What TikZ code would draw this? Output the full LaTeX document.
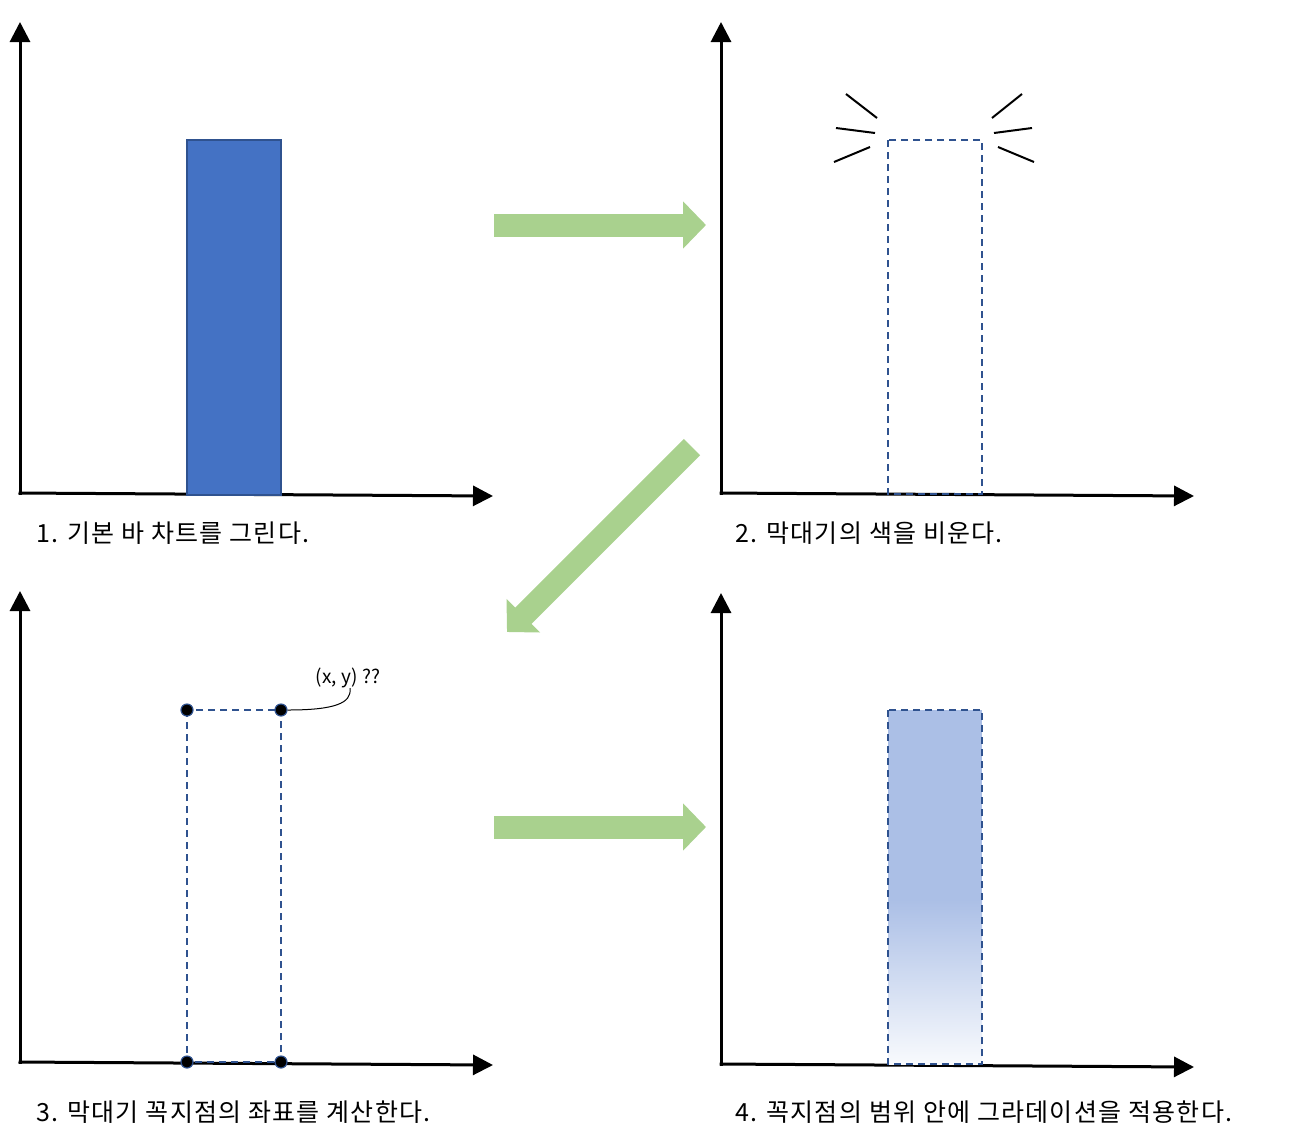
\documentclass[tikz,border=0pt]{standalone}
\usepackage{fontspec}
\setmainfont{Noto Sans CJK KR}
\usetikzlibrary{arrows.meta, positioning}
\definecolor{barblue}{HTML}{4472C4}
\definecolor{barline}{HTML}{2F528F}
\definecolor{lightbar}{HTML}{ABBFE6}
\definecolor{flowgreen}{HTML}{A9D18E}

\begin{document}
\begin{tikzpicture}[x=1pt, y=-1pt,
    axis/.style={line width=3pt, -{Triangle[length=20pt, width=20pt]}},
    flow/.style={flowgreen, line width=23pt, -{Triangle[length=23pt, width=46pt]}},
    dashbar/.style={barline, line width=1.5pt, dash pattern=on 7pt off 5pt},
    spark/.style={line width=2pt},
    corner/.style={circle, fill=black, draw=barline, line width=1.2pt, inner sep=0pt, minimum size=12pt},
    stagetext/.style={anchor=west, inner sep=0pt, font=\fontsize{25}{28}\selectfont\addfontfeatures{LetterSpace=5}}]
    \useasboundingbox (0,0) rectangle (1305,1144);

    % axes of the four panels
    \foreach \ox/\oy in {20/493, 721/493, 20/1062, 721/1064} {
        \draw[axis] (\ox,\oy+2) -- (\ox,\oy-471);
        \draw[axis] (\ox-1.5,\oy) -- (\ox+473,\oy+3);
    }

    % 1. plain bar
    \draw[barline, line width=1.5pt, fill=barblue] (187,140) rectangle (281,495);
    \node[stagetext] (cap1) at (36,533) {1. 기본 바 차트를 그린다.};

    % 2. empty bar
    \draw[dashbar] (888,140) rectangle (982,494);
    \draw[spark] (846,94) -- (877,118);
    \draw[spark] (836,128) -- (875,133);
    \draw[spark] (834,162) -- (870,147);
    \draw[spark] (1022,94) -- (992,118);
    \draw[spark] (1032,128) -- (994,133);
    \draw[spark] (1034,162) -- (998,147);
    \node[stagetext] (cap2) at (735,533) {2. 막대기의 색을 비운다.};

    % 3. corner points
    \draw[dashbar] (187,710) rectangle (281,1062);
    \node[corner] (tl) at (187,710) {};
    \node[corner] (tr) at (281,710) {};
    \node[corner] (bl) at (187,1062) {};
    \node[corner] (br) at (281,1062) {};
    \node[font=\fontsize{19}{21}\selectfont, inner sep=0pt] (xyq) at (348,678) {(x, y) ??};
    \draw[line width=1pt] (tr.east) .. controls (335,710) and (352,703) .. ([xshift=2pt]xyq.south);
    \node[stagetext] (cap3) at (36,1112) {3. 막대기 꼭지점의 좌표를 계산한다.};

    % 4. gradient bar
    \fill[lightbar] (888,710) rectangle (982,900);
    \shade[top color=lightbar, bottom color=lightbar!8] (888,899.5) rectangle (982,1064);
    \draw[dashbar] (888,710) rectangle (982,1064);
    \node[stagetext] (cap4) at (735,1112) {4. 꼭지점의 범위 안에 그라데이션을 적용한다.};

    % flow arrows
    \coordinate (f1s) at (494,225);
    \coordinate (f1e) at (706,225);
    \coordinate (f2s) at (692,447);
    \coordinate (f2e) at (507,632);
    \coordinate (f3s) at (494,827);
    \coordinate (f3e) at (706,827);
    \draw[flow] (f1s) -- (f1e);
    \draw[flow] (f2s) -- (f2e);
    \draw[flow] (f3s) -- (f3e);
\end{tikzpicture}
\end{document}
